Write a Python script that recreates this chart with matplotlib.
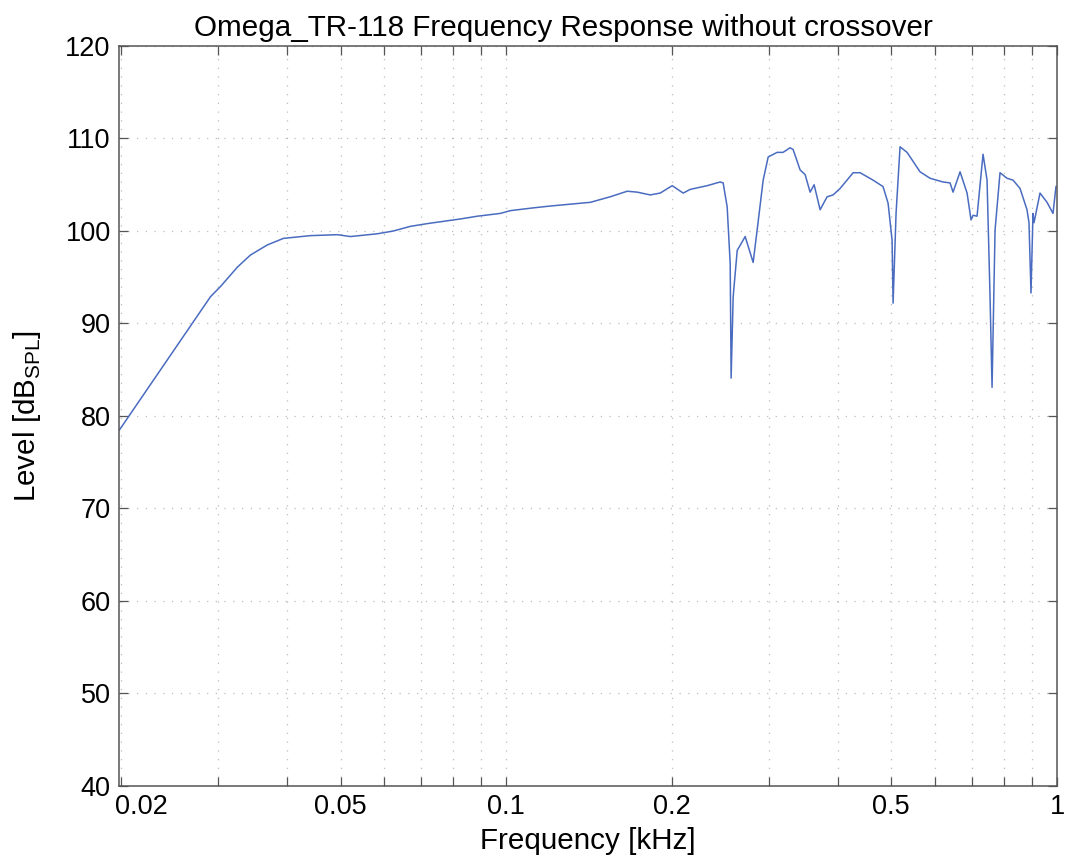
import matplotlib
matplotlib.use("Agg")
import matplotlib.pyplot as plt
import matplotlib.transforms as mtransforms
import numpy as np

# Frequency (kHz) and level (dB SPL)
freq_khz = [0.01984, 0.02903, 0.03027, 0.03249, 0.03430, 0.03683, 0.03937, 0.04408,
            0.04935, 0.05210, 0.05833, 0.06236, 0.06694, 0.07189, 0.08250, 0.08860,
            0.09752, 0.1017, 0.1119, 0.1202, 0.1421, 0.1544, 0.1658, 0.1729,
            0.1825, 0.1903, 0.2001, 0.2095, 0.2158, 0.2316, 0.2445, 0.2476,
            0.2518, 0.2550, 0.2560, 0.2582, 0.2626, 0.2715, 0.2807, 0.2854,
            0.2927, 0.2989, 0.3102, 0.3181, 0.3276, 0.3318, 0.3416, 0.3488,
            0.3562, 0.3622, 0.3714, 0.3824, 0.3921, 0.4038, 0.4264, 0.4390,
            0.4634, 0.4832, 0.4935, 0.5018, 0.5039, 0.5102, 0.5188, 0.5342,
            0.5640, 0.5881, 0.6209, 0.6394, 0.6475, 0.6668, 0.6866, 0.6981,
            0.7040, 0.7158, 0.7340, 0.7464, 0.7558, 0.7622, 0.7718, 0.7880,
            0.8114, 0.8321, 0.8568, 0.8821, 0.8895, 0.8970, 0.9045, 0.9084,
            0.9314, 0.9592, 0.9834, 0.9958]
level_db = [78.5, 92.9, 94.0, 96.1, 97.4, 98.5, 99.2, 99.5,
            99.6, 99.4, 99.7, 100.0, 100.5, 100.8, 101.3, 101.6,
            101.9, 102.2, 102.5, 102.7, 103.1, 103.7, 104.3, 104.2,
            103.9, 104.1, 104.9, 104.1, 104.5, 104.9, 105.3, 105.2,
            102.6, 96.5, 84.1, 92.9, 97.9, 99.4, 96.6, 100.1,
            105.5, 108.0, 108.5, 108.5, 109.0, 108.8, 106.6, 106.1,
            104.2, 105.0, 102.3, 103.7, 103.9, 104.6, 106.3, 106.3,
            105.5, 104.8, 103.0, 99.0, 92.2, 101.9, 109.1, 108.5,
            106.4, 105.7, 105.3, 105.2, 104.2, 106.4, 104.1, 101.2,
            101.7, 101.6, 108.3, 105.5, 92.9, 83.1, 100.1, 106.3,
            105.7, 105.5, 104.6, 102.3, 100.9, 93.3, 101.9, 100.9,
            104.1, 103.1, 101.9, 104.8]

major_x = [0.02, 0.05, 0.1, 0.2, 0.5, 1]
major_x_labels = ["0.02", "0.05", "0.1", "0.2", "0.5", "1"]
minor_x = [0.03, 0.04, 0.06, 0.07, 0.08, 0.09, 0.3, 0.4, 0.6, 0.7, 0.8, 0.9]
y_ticks = [40, 50, 60, 70, 80, 90, 100, 110, 120]

plt.rcParams['font.family'] = ['Liberation Sans', 'DejaVu Sans']

fig = plt.figure(figsize=(10.65, 8.66), dpi=100)
ax = fig.add_axes([119/1065, 1 - 786/866, (1057-119)/1065, (786-46)/866])

ax.plot(freq_khz, level_db, color='#4a6cc0', lw=1.1)

ax.set_xscale('log')
ax.set_xlim(0.0198, 1)
ax.set_ylim(40, 120)
ax.set_xticks(major_x)
ax.set_xticklabels(major_x_labels)
ax.set_xticks(minor_x, minor=True)
ax.set_xticklabels([], minor=True)
ax.set_yticks(y_ticks)

grid_kw = dict(color='#bdbdbd', linestyle=(0, (1, 6)), linewidth=0.9)
ax.grid(True, which='both', axis='x', **grid_kw)
ax.grid(True, which='major', axis='y', **grid_kw)

ax.tick_params(which='both', direction='in', top=True, right=True,
               length=6.5, width=0.9, color='#555555', labelsize=19.5, pad=6)
for s in ax.spines.values():
    s.set_color('#555555')
    s.set_linewidth(1.1)

# first x tick label sits against the left edge
offset = mtransforms.ScaledTranslation(-6/100, 0, fig.dpi_scale_trans)
lbl0 = ax.get_xticklabels()[0]
lbl0.set_horizontalalignment('left')
lbl0.set_transform(lbl0.get_transform() + offset)

ax.set_xlabel('Frequency [kHz]', fontsize=21.3, labelpad=5)
ax.set_ylabel('Level [dB$_{\\mathregular{SPL}}$]', fontsize=21.3, labelpad=16)
ax.set_title('Omega_TR-118 Frequency Response without crossover', fontsize=21.3,
             x=0.474, pad=7)

fig.savefig('out.png', dpi=100)
